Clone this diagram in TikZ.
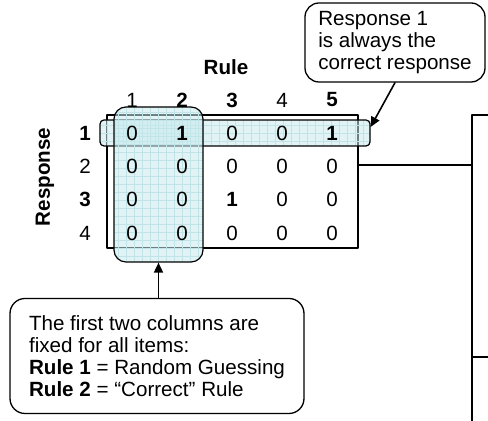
\documentclass[tikz,border=0pt]{standalone}
\usepackage{fontspec}
\setmainfont{Liberation Sans}
\usetikzlibrary{arrows.meta,calc}
\definecolor{hlfill}{RGB}{200,234,236}
\definecolor{hlgrid}{RGB}{192,228,231}

\begin{document}
\begin{tikzpicture}[x=0.5pt, y=-0.5pt, line cap=round, line join=round,
	font=\fontsize{10.3}{11}\selectfont,
	hlbox/.style={draw, line width=0.6pt, fill=hlfill, fill opacity=0.55, inner sep=0pt,
		path picture={\draw[hlgrid, line width=0.2pt] (path picture bounding box.south west)
			grid[step=4pt] (path picture bounding box.north east);}},
	callout/.style={draw, line width=0.65pt, align=left, fill=white},
	conn/.style={line width=0.8pt, -{Triangle[length=5pt,width=4.5pt]}}]
	
	\useasboundingbox (0,0) rectangle (488,421);
	
	% the rule/response matrix
	\node[draw, line width=0.9pt, minimum width=125.5pt, minimum height=66.5pt, inner sep=0pt]
		(mat) at (232.5,181.5) {};
	\node[hlbox, rounded corners=2pt, minimum width=135pt, minimum height=13pt] (rowhl) at (235,133) {};
	\node[hlbox, rounded corners=6pt, minimum width=44.5pt, minimum height=77.5pt] (colhl) at (158.5,184.5) {};
	
	\node (rule) at (226,67) {\bfseries Rule};
	\node[rotate=90] (resp) at (45,177) {\bfseries Response};
	
	\foreach \c/\t in {1/1, 2/\textbf{2}, 3/\textbf{3}, 4/4, 5/\textbf{5}}
		\node (h\c) at ({82+50*\c},100) {\t};
	\foreach \r/\t in {1/\textbf{1}, 2/2, 3/\textbf{3}, 4/4}
		\node (r\r) at (85,{100+33.3*\r}) {\t};
	
	\foreach \r/\vals in {1/{0,\textbf{1},0,0,\textbf{1}}, 2/{0,0,0,0,0}, 3/{0,0,\textbf{1},0,0}, 4/{0,0,0,0,0}}{
		\foreach \v [count=\c] in \vals
			\node (m\r\c) at ({82+50*\c},{100+33.3*\r}) {\v};
	}
	
	% callouts
	\node[callout, rounded corners=7pt, minimum width=90pt, minimum height=39.5pt]
		(always) at (395,42.5) {Response 1\\is always the\\correct response};
	\node[callout, rounded corners=7.5pt, minimum width=147pt, minimum height=57.5pt]
		(fixed) at (157,356) {The first two columns are\\fixed for all items:\\
			\textbf{Rule 1} = Random Guessing\\\textbf{Rule 2} = ``Correct'' Rule};
	
	\draw[conn] (colhl.south |- fixed.north) -- (colhl.south);
	\draw[conn] (always.south) -- ([yshift=3pt]rowhl.east);
	
	% box on the right, cut off by the page edge
	\coordinate (rbox) at (472,165);
	\draw[line width=0.9pt] (mat.east |- rbox) -- (rbox);
	\draw[line width=0.9pt] (488,115) -- (472,115) -- (472,421);
	\draw[line width=0.9pt] (472,357) -- (488,357);
	
\end{tikzpicture}
\end{document}
